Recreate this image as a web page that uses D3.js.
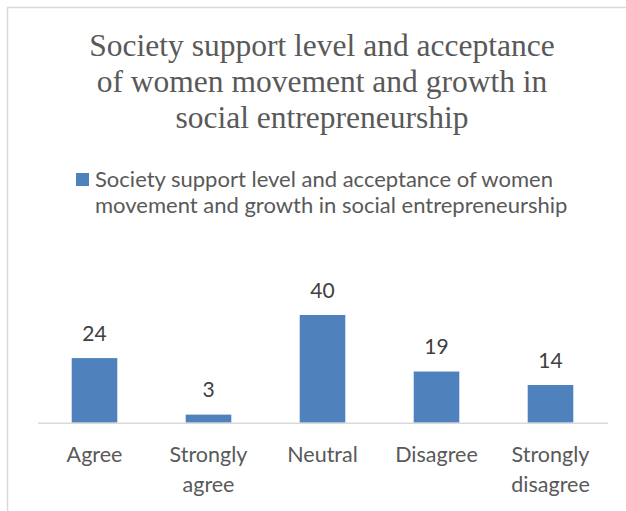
<!DOCTYPE html>
<html><head><meta charset="utf-8"><script src="https://cdn.jsdelivr.net/npm/d3@7"></script>
<style>body{margin:0;background:#fff}</style></head>
<body>
<svg id="chart" width="626" height="511"></svg>
<script>
const titleLines = ["Society support level and acceptance", "of women movement and growth in", "social entrepreneurship"];
const legendLines = ["Society support level and acceptance of women", "movement and growth in social entrepreneurship"];
const categories = [["Agree"], ["Strongly", "agree"], ["Neutral"], ["Disagree"], ["Strongly", "disagree"]];
const values = [24, 3, 40, 19, 14];

const W = 626, H = 511;
const svg = d3.select("#chart");
const barColor = "#4f81bd";

// chart border (cropped on right/bottom)
svg.append("rect").attr("x", 7.5).attr("y", 7.5).attr("width", W + 20).attr("height", H + 20)
  .attr("fill", "#fff").attr("stroke", "#d9d9d9").attr("stroke-width", 1.5);

// title
svg.append("g").selectAll("text").data(titleLines).join("text")
  .attr("x", 322).attr("y", (d, i) => 56 + i * 36)
  .attr("text-anchor", "middle")
  .attr("font-family", "Liberation Serif, Times New Roman, serif")
  .attr("font-size", 31.5).attr("fill", "#595959")
  .text(d => d);

// legend
svg.append("rect").attr("x", 76).attr("y", 173).attr("width", 13).attr("height", 13).attr("fill", barColor);
svg.append("g").selectAll("text").data(legendLines).join("text")
  .attr("x", 95).attr("y", (d, i) => 187 + i * 26)
  .attr("font-family", "Lato, sans-serif").attr("font-size", 22).attr("fill", "#595959")
  .text(d => d);

// scales
const x = d3.scaleBand().domain(d3.range(values.length)).range([37.5, 607.5]).paddingInner(0.6).paddingOuter(0.3);
const y = d3.scaleLinear().domain([0, 40]).range([422.7, 315]);

// bars
svg.append("g").selectAll("rect").data(values).join("rect")
  .attr("x", (d, i) => x(i)).attr("width", x.bandwidth())
  .attr("y", d => y(d)).attr("height", d => y(0) - y(d))
  .attr("fill", barColor);

// axis line
const axis = svg.append("g").attr("transform", `translate(0,${y(0)})`)
  .call(d3.axisBottom(x).tickSize(0).tickFormat(""));
axis.select(".domain").attr("stroke", "#d9d9d9").attr("stroke-width", 1.5);

// data labels
svg.append("g").selectAll("text").data(values).join("text")
  .attr("x", (d, i) => x(i) + x.bandwidth() / 2).attr("y", d => y(d) - 17.5)
  .attr("text-anchor", "middle")
  .attr("font-family", "Lato, sans-serif").attr("font-size", 21).attr("fill", "#404040")
  .text(d => d);

// category labels
const cat = svg.append("g").selectAll("text").data(categories).join("text")
  .attr("x", (d, i) => x(i) + x.bandwidth() / 2).attr("y", 461.7)
  .attr("text-anchor", "middle")
  .attr("font-family", "Lato, sans-serif").attr("font-size", 21.5).attr("fill", "#595959");
cat.selectAll("tspan").data(d => d).join("tspan")
  .attr("x", function () { return d3.select(this.parentNode).attr("x"); })
  .attr("dy", (d, i) => i === 0 ? 0 : 30)
  .text(d => d);
</script></body></html>
